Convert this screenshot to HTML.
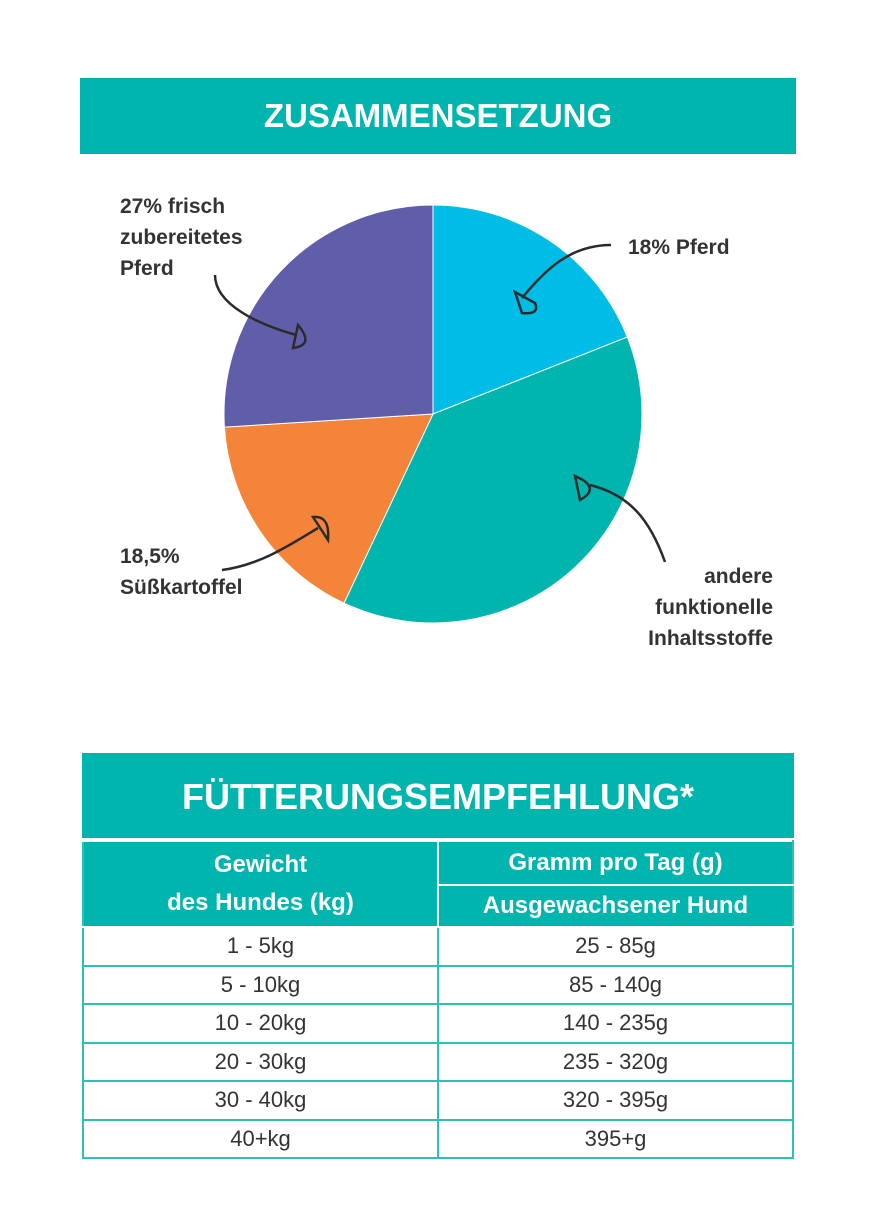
<!DOCTYPE html>
<html><head><meta charset="utf-8"><style>
body{margin:0;width:874px;height:1224px;background:#fff;font-family:"Liberation Sans",sans-serif;position:relative;overflow:hidden}
.t{position:absolute;background:#00b5ad;color:#fff;font-weight:bold;text-align:center}
table{position:absolute;left:82px;top:840px;width:712px;border-collapse:collapse}
td{border:2px solid #2cc0b8;text-align:center;color:#333;font-size:22px;height:36.5px;padding:0}
td.h{background:#00b5ad;color:#fff;font-weight:bold;border-color:#fff}
</style></head><body>
<div class="t" style="left:80px;top:78px;width:716px;height:76px;line-height:76px;font-size:33px">ZUSAMMENSETZUNG</div>
<svg id="pie" width="874" height="700" style="position:absolute;left:0;top:0" font-family="Liberation Sans, sans-serif" font-weight="bold" font-size="21" fill="#333"></svg>
<div class="t" style="left:82px;top:753px;width:712px;height:85px;line-height:88px;font-size:36px">FÜTTERUNGSEMPFEHLUNG*</div>
<table>
<tr><td class="h" rowspan="2" style="width:353px;font-size:24px;line-height:38px;border-left-color:#2cc0b8">Gewicht<br>des Hundes (kg)</td>
<td class="h" style="height:42px;font-size:24px;border-right-color:#2cc0b8">Gramm pro Tag (g)</td></tr>
<tr><td class="h" style="height:40px;font-size:24px;border-right-color:#2cc0b8">Ausgewachsener Hund</td></tr>
<tr><td>1 - 5kg</td><td>25 - 85g</td></tr>
<tr><td>5 - 10kg</td><td>85 - 140g</td></tr>
<tr><td>10 - 20kg</td><td>140 - 235g</td></tr>
<tr><td>20 - 30kg</td><td>235 - 320g</td></tr>
<tr><td>30 - 40kg</td><td>320 - 395g</td></tr>
<tr><td>40+kg</td><td>395+g</td></tr>
</table>
<script>
const categories=["18% Pferd","andere funktionelle Inhaltsstoffe","18,5% Süßkartoffel","27% frisch zubereitetes Pferd"];
const values=[19,38,17,26];
const colors=["#00bde8","#00b5ad","#f3843a","#605ea8"];
const svg=document.getElementById('pie');const NS="http://www.w3.org/2000/svg";
const cx=433,cy=414,r=209;const tot=values.reduce((a,b)=>a+b,0);
let a0=0;
values.forEach((v,i)=>{const a1=a0+v/tot*2*Math.PI;
const p=(a)=>[cx+r*Math.sin(a),cy-r*Math.cos(a)];
const [x0,y0]=p(a0),[x1,y1]=p(a1);
const el=document.createElementNS(NS,'path');
el.setAttribute('d',`M${cx},${cy}L${x0},${y0}A${r},${r} 0 ${a1-a0>Math.PI?1:0} 1 ${x1},${y1}Z`);
el.setAttribute('fill',colors[i]);el.setAttribute('stroke','#fff');el.setAttribute('stroke-width','1');


svg.appendChild(el);a0=a1;});
const labels=[[628,254,["18% Pferd"],"start"],[773,583,["andere","funktionelle","Inhaltsstoffe"],"end"],[120,563,["18,5%","Süßkartoffel"],"start"],[120,213,["27% frisch","zubereitetes","Pferd"],"start"]];
labels.forEach((l,i)=>{l[2].forEach((s,j)=>{const t=document.createElementNS(NS,'text');
t.setAttribute('x',l[0]);t.setAttribute('y',l[1]+j*31);t.setAttribute('text-anchor',l[3]);t.textContent=s;


svg.appendChild(t);});});
const arrows=["M611,245 C570,245 545,270 522,298","M665,562 C650,520 630,495 590,485","M222,570 C260,565 290,545 318,528","M215,275 C215,305 260,325 296,335"];
const heads=["M515,292 L522,313 Q540,315 535,303 Z","M575,476 L580,500 Q598,490 583,480 Z","M313,517 L328,540 Q330,515 313,517 Z","M298,325 L293,348 Q315,345 298,325 Z"];
arrows.forEach((d,i)=>{const e=document.createElementNS(NS,'path');e.setAttribute('d',d);e.setAttribute('fill','none');e.setAttribute('stroke','#2b2b2b');e.setAttribute('stroke-width','2.5');


svg.appendChild(e);
const h=document.createElementNS(NS,'path');h.setAttribute('d',heads[i]);h.setAttribute('fill','none');h.setAttribute('stroke','#2b2b2b');h.setAttribute('stroke-width','2.5');


svg.appendChild(h);});
</script>
</body></html>
